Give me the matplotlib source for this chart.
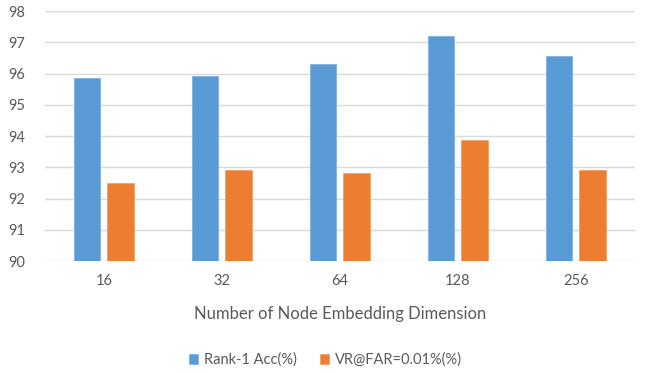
import matplotlib.pyplot as plt
import numpy as np

dims = ['16', '32', '64', '128', '256']
rank1_acc = [95.86, 95.91, 96.30, 97.20, 96.56]
vr_far = [92.51, 92.90, 92.81, 93.87, 92.91]

BLUE = '#5B9BD5'
ORANGE = '#ED7D31'
TEXT = '#595959'

plt.rcParams['font.family'] = ['Lato', 'DejaVu Sans']

fig = plt.figure(figsize=(6.51, 3.73), dpi=100)
ax = fig.add_axes([0.069, 0.300, 0.906, 0.6705])

x = np.arange(len(dims))
w = 0.226
ax.bar(x - 0.142, rank1_acc, w, color=BLUE, edgecolor='#7FB2E0', linewidth=0.6,
       label='Rank-1 Acc(%)', zorder=3)
ax.bar(x + 0.142, vr_far, w, color=ORANGE, edgecolor='#F4A06A', linewidth=0.6,
       label='VR@FAR=0.01%(%)', zorder=3)

ax.set_xlim(-0.5, len(dims) - 0.5)
ax.set_ylim(90, 98)
ax.set_yticks(range(90, 99))
ax.set_xticks(x)
ax.set_xticklabels(dims)
ax.tick_params(axis='both', length=0, labelsize=10.5, colors=TEXT)
ax.tick_params(axis='y', pad=14)
ax.tick_params(axis='x', pad=9)
ax.grid(axis='y', color='#D9D9D9', linewidth=1, zorder=0)
for s in ax.spines.values():
    s.set_visible(False)

ax.set_xlabel('Number of Node Embedding Dimension', fontsize=12, color=TEXT, labelpad=13)

leg = fig.legend(loc='center', bbox_to_anchor=(0.5, 0.035), ncol=2, frameon=False,
                 fontsize=10.5, handlelength=0.6, handleheight=0.6, handletextpad=0.4,
                 columnspacing=1.6)
for t in leg.get_texts():
    t.set_color(TEXT)

plt.savefig('out.png', dpi=100)
